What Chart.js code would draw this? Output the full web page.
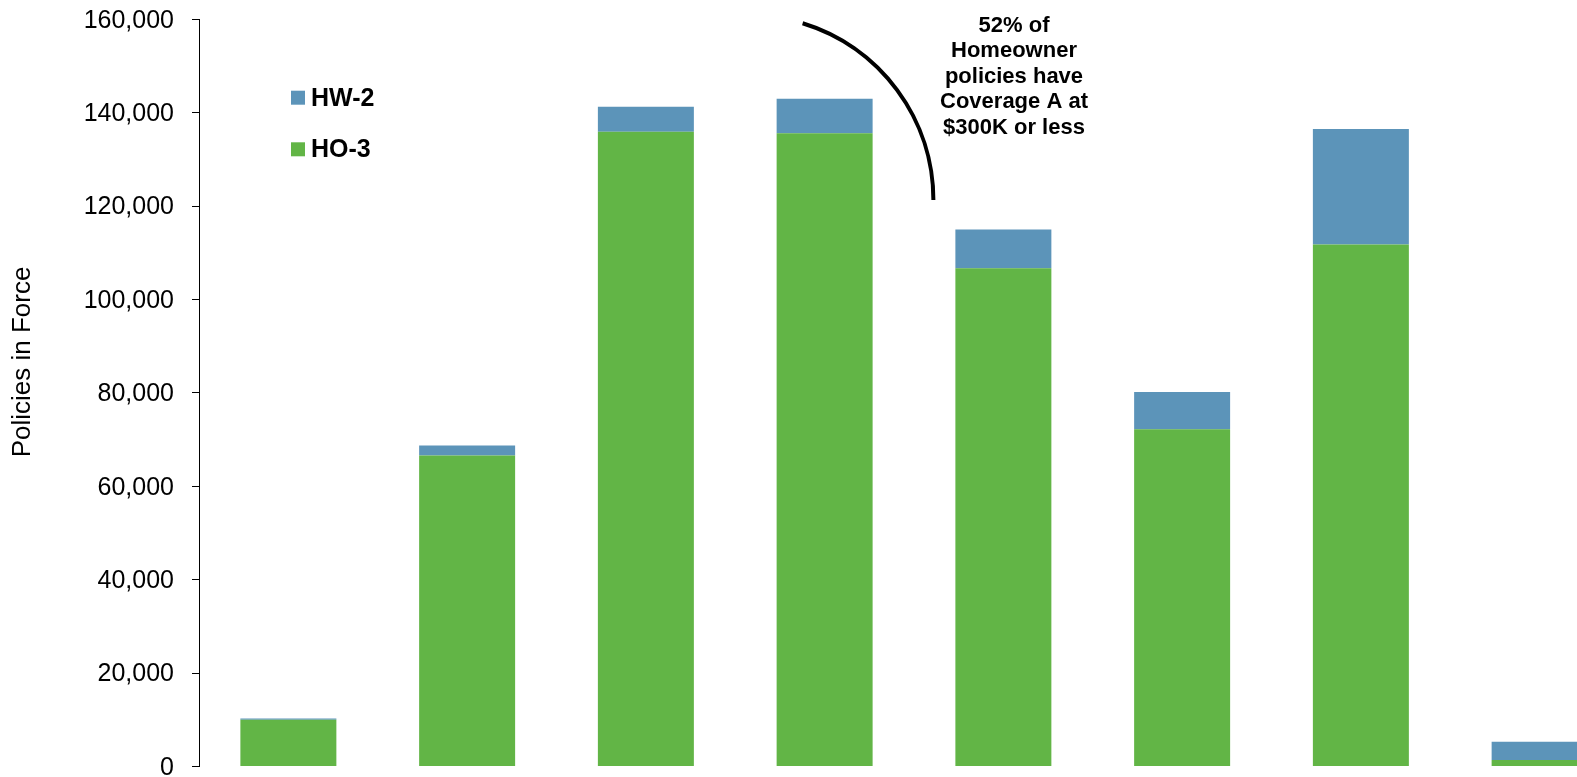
<!DOCTYPE html>
<html>
<head>
<meta charset="utf-8">
<script src="https://cdn.jsdelivr.net/npm/chart.js@4/dist/chart.umd.min.js"></script>
<style>
  html, body { margin: 0; padding: 0; background: #fff; overflow: hidden; }
  #wrap { width: 1640px; height: 777px; }
</style>
</head>
<body>
<div id="wrap"><canvas id="myChart" width="1640" height="777"></canvas></div>
<script>
// Coverage A bands (not labelled on the axis)
const categories = ['$0-100K', '$100K-150K', '$150K-200K', '$200K-300K', '$300K-400K', '$400K-500K', '$500K-1M', '$1M+'];

// Policies in force by form
const ho3Values = [10000, 66600, 135900, 135600, 106700, 72200, 111800, 1400];
const hw2Values = [300, 2150, 5400, 7400, 8300, 8000, 24700, 3900];

const yTicks = [0, 20000, 40000, 60000, 80000, 100000, 120000, 140000, 160000];

const noteLines = ['52% of', 'Homeowner', 'policies have', 'Coverage A at', '$300K or less'];

const FONT = "'Liberation Sans', Arial, Helvetica, sans-serif";

// Legend, axis title and the callout are drawn by hand
const extras = {
    id: 'extras',
    afterDraw(chart) {
        const ctx = chart.ctx;
        ctx.save();

        // Titulo del eje Y
        ctx.translate(23, 362);
        ctx.rotate(-Math.PI / 2);
        ctx.font = '26px ' + FONT;
        ctx.fillStyle = '#000';
        ctx.textAlign = 'center';
        ctx.textBaseline = 'middle';
        ctx.fillText('Policies in Force', 0, 0);
        ctx.setTransform(1, 0, 0, 1, 0, 0);

        // Leyenda (HW-2 arriba, HO-3 abajo)
        const items = chart.data.datasets.slice().reverse();
        ctx.font = 'bold 25px ' + FONT;
        ctx.textAlign = 'left';
        items.forEach((ds, i) => {
            const cy = 97.7 + i * 51.6;
            ctx.fillStyle = ds.backgroundColor;
            ctx.fillRect(291, cy - 7, 14, 14);
            ctx.fillStyle = '#000';
            ctx.fillText(ds.label, 311, cy + 1);
        });

        // Arco de la llamada
        ctx.beginPath();
        ctx.arc(748.6, 200, 184.8, -73 * Math.PI / 180, 0);
        ctx.lineWidth = 4;
        ctx.strokeStyle = '#000';
        ctx.stroke();

        // Texto de la llamada
        ctx.font = 'bold 22px ' + FONT;
        ctx.textAlign = 'center';
        ctx.fillStyle = '#000';
        noteLines.forEach((line, i) => {
            ctx.fillText(line, 1014, 26 + i * 25.4);
        });

        ctx.restore();
    }
};

const ctx = document.getElementById('myChart').getContext('2d');

window.myChart = new Chart(ctx, {
    type: 'bar',
    data: {
        labels: categories,
        datasets: [
            {
                label: 'HO-3',
                data: ho3Values,
                backgroundColor: '#62B546',
                borderWidth: 0,
                barPercentage: 0.537,
                categoryPercentage: 1
            },
            {
                label: 'HW-2',
                data: hw2Values,
                backgroundColor: '#5C94B9',
                borderWidth: 0,
                barPercentage: 0.537,
                categoryPercentage: 1
            }
        ]
    },
    options: {
        responsive: false,
        animation: false,
        devicePixelRatio: 1,
        layout: {
            padding: { top: 19.3, bottom: 10.5, left: 0, right: 11 }
        },
        plugins: {
            legend: { display: false },
            tooltip: { enabled: false }
        },
        scales: {
            x: {
                stacked: true,
                display: false
            },
            y: {
                stacked: true,
                min: 0,
                max: 160000,
                afterFit: (axis) => {
                    // ancho fijo y sin margen extra por las etiquetas
                    axis.width = 199;
                    axis.paddingTop = 0;
                    axis.paddingBottom = 0;
                },
                afterBuildTicks: (axis) => {
                    axis.ticks = yTicks.map(v => ({ value: v }));
                },
                border: { display: true, color: '#000', width: 1 },
                grid: {
                    drawOnChartArea: false,
                    drawTicks: true,
                    tickLength: 7,
                    color: '#000'
                },
                ticks: {
                    padding: 18,
                    labelOffset: 1.5,
                    color: '#000',
                    font: { family: FONT, size: 25 },
                    callback: (v) => Number(v).toLocaleString('en-US')
                }
            }
        }
    },
    plugins: [extras]
});
</script>
</body>
</html>
